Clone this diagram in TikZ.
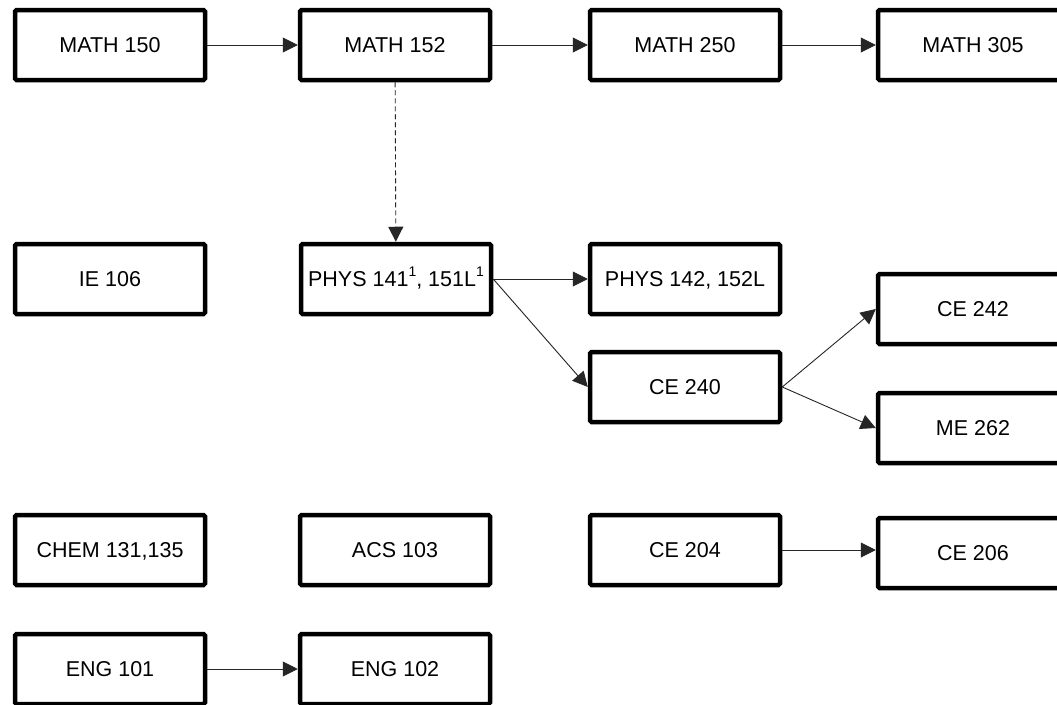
\documentclass[tikz,border=0pt]{standalone}
\usepackage{fontspec}
\setmainfont{Liberation Sans}
\usetikzlibrary{arrows.meta}
\newcommand{\supone}{\raisebox{0.5em}{\fontsize{14pt}{14pt}\selectfont 1}}
\begin{document}
\begin{tikzpicture}[x=1pt,y=-1pt,
  course/.style={draw=black,line width=4.5pt,rounded corners=1.5pt,fill=white,
    minimum width=190pt,minimum height=70pt,inner sep=2pt,text height=15.5pt,text depth=0pt,
    font=\fontsize{21.5pt}{24pt}\selectfont},
  conn/.style={draw=black!85,line width=0.9pt,-{Triangle[length=15pt,width=15pt]}},
  dconn/.style={conn,dash pattern=on 5pt off 3pt}]
\clip (0,0) rectangle (1057,704);
\fill[white] (0,0) rectangle (1057,704);
\node[course] (m150) at (110,45) {MATH 150};
\node[course] (m152) at (395,45) {MATH 152};
\node[course] (m250) at (685,45) {MATH 250};
\node[course] (m305) at (973,45) {MATH 305};
\node[course] (ie106) at (110,279) {IE 106};
\node[course] (p141) at (396,279) {PHYS 141\supone, 151L\supone};
\node[course] (p142) at (685,279) {PHYS 142, 152L};
\node[course] (ce242) at (973,309) {CE 242};
\node[course] (ce240) at (685,387) {CE 240};
\node[course] (me262) at (973,428) {ME 262};
\node[course] (chem) at (110,550) {CHEM 131,135};
\node[course] (acs) at (395,550) {ACS 103};
\node[course] (ce204) at (685,550) {CE 204};
\node[course] (ce206) at (973,553) {CE 206};
\node[course] (eng101) at (110,669) {ENG 101};
\node[course] (eng102) at (395,669) {ENG 102};
\draw[conn] (m150) -- (m152);
\draw[conn] (m152) -- (m250);
\draw[conn] (m250) -- (m305);
\draw[dconn] (m152) -- (p141);
\draw[conn] (p141.east) -- (p142);
\draw[conn] (p141.east) -- (ce240.west);
\draw[conn] (ce240.east) -- (ce242.west);
\draw[conn] (ce240.east) -- (me262.west);
\draw[conn] (ce204) -- (ce204 -| ce206.west);
\draw[conn] (eng101) -- (eng102);
\end{tikzpicture}
\end{document}
